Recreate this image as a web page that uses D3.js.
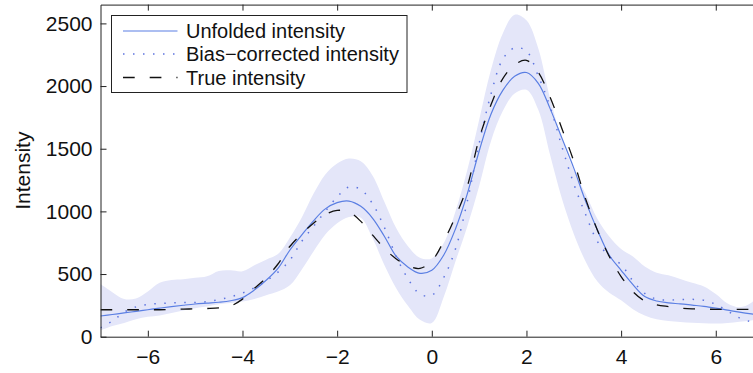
<!DOCTYPE html>
<html>
<head>
<meta charset="utf-8">
<script src="https://cdn.jsdelivr.net/npm/d3@7"></script>
<style>
  body { margin: 0; background: #fff; }
  svg { display: block; font-family: "Liberation Sans", Arial, Helvetica, sans-serif; }
</style>
</head>
<body>
<script>
// sample positions along the x axis
const xs = [-7, -6.75, -6.5, -6.25, -6, -5.75, -5.5, -5.25, -5, -4.75, -4.5, -4.25, -4, -3.75, -3.5, -3.25,
  -3, -2.75, -2.5, -2.25, -2, -1.75, -1.5, -1.25, -1, -0.75, -0.5, -0.25, 0, 0.25, 0.5, 0.75,
  1, 1.25, 1.5, 1.75, 2, 2.25, 2.5, 2.75, 3, 3.25, 3.5, 3.75, 4, 4.25, 4.5, 4.75,
  5, 5.25, 5.5, 5.75, 6, 6.25, 6.5, 6.75, 7];

// unfolded intensity (solid blue)
const unfolded = [165, 177, 190, 202, 215, 228, 240, 251, 261, 268, 275, 287, 312, 372, 450, 545,
  690, 810, 925, 1020, 1070, 1082, 1040, 945, 800, 640, 555, 506, 530, 650, 860, 1140,
  1480, 1775, 1965, 2078, 2108, 2022, 1820, 1583, 1345, 1080, 850, 650, 530, 415, 320, 285,
  270, 262, 252, 242, 228, 212, 196, 182, 170];

// bias-corrected intensity (dotted blue)
const biasCorrected = [70, 125, 195, 238, 258, 265, 270, 272, 273, 280, 295, 318, 348, 390, 445, 515,
  610, 760, 880, 1000, 1115, 1195, 1175, 1060, 870, 640, 460, 340, 330, 470, 700, 1080,
  1540, 1935, 2215, 2305, 2280, 2080, 1835, 1515, 1220, 975, 760, 640, 575, 445, 345, 300,
  293, 296, 298, 290, 258, 205, 150, 118, 90];

// true intensity (dashed black)
const trueIntensity = [215, 215, 215, 215, 215, 215, 217, 220, 222, 225, 230, 245, 300, 385, 470, 580,
  720, 820, 905, 975, 1008, 995, 920, 810, 705, 620, 565, 545, 605, 760, 960, 1200,
  1580, 1850, 2060, 2170, 2205, 2110, 1910, 1660, 1400, 1100, 850, 640, 480, 360, 285, 255,
  240, 228, 222, 220, 218, 218, 218, 218, 218];

// uncertainty band (lower / upper)
const bandLow = [50, 85, 110, 140, 160, 170, 190, 210, 228, 240, 258, 268, 280, 300, 330, 360,
  410, 535, 680, 815, 905, 955, 950, 785, 570, 385, 245, 135, 110, 315, 600, 880,
  1200, 1560, 1800, 1940, 1970, 1810, 1450, 1100, 820, 600, 440, 350, 290, 220, 170, 140,
  125, 118, 112, 108, 105, 110, 120, 130, 140];
const bandHigh = [420, 355, 300, 305, 360, 430, 452, 458, 470, 482, 525, 530, 522, 570, 615, 660,
  790, 950, 1140, 1295, 1383, 1422, 1400, 1285, 1075, 865, 720, 630, 625, 745, 1000, 1330,
  1730, 2130, 2420, 2570, 2525, 2300, 1900, 1570, 1330, 1140, 940, 800, 700, 640, 560, 510,
  490, 460, 430, 400, 340, 265, 235, 270, 400];

// axis ticks and legend labels
const xTicks = [-6, -4, -2, 0, 2, 4, 6];
const yTicks = [0, 500, 1000, 1500, 2000, 2500];
const legendLabels = ['Unfolded intensity', 'Bias\u2212corrected intensity', 'True intensity'];

const width = 753;
const height = 373;
const blue = '#5b7fe3';
const dotBlue = '#5d74e0';

const svg = d3.select('body').append('svg')
    .attr('width', width)
    .attr('height', height);

// scales (plot area runs past the right edge of the picture)
const xScale = d3.scaleLinear().domain([-7, 7]).range([100.5, 763.1]);
const yScale = d3.scaleLinear().domain([0, 2650]).range([336.7, 4.6]);

svg.append('clipPath').attr('id', 'plot')
  .append('rect')
    .attr('x', 100.5).attr('y', 4.6)
    .attr('width', 662.6).attr('height', 332.1);

const rows = xs.map((x, i) => ({
  x: x, u: unfolded[i], b: biasCorrected[i], t: trueIntensity[i], lo: bandLow[i], hi: bandHigh[i]
}));

const plot = svg.append('g').attr('clip-path', 'url(#plot)');
const curve = d3.curveCatmullRom.alpha(0.5);

// shaded band
plot.append('path')
    .datum(rows)
    .attr('fill', '#e4e6f9')
    .attr('d', d3.area().curve(curve)
      .x(d => xScale(d.x)).y0(d => yScale(d.lo)).y1(d => yScale(d.hi)));

function line(key) {
  return d3.line().curve(curve).x(d => xScale(d.x)).y(d => yScale(d[key]));
}

plot.append('path').datum(rows)
    .attr('fill', 'none').attr('stroke', blue).attr('stroke-width', 1.2)
    .attr('d', line('u'));

plot.append('path').datum(rows)
    .attr('fill', 'none').attr('stroke', dotBlue).attr('stroke-width', 1.5)
    .attr('stroke-dasharray', '1.5,8.5')
    .attr('d', line('b'));

plot.append('path').datum(rows)
    .attr('fill', 'none').attr('stroke', '#111').attr('stroke-width', 1.3)
    .attr('stroke-dasharray', '11.7,15')
    .attr('d', line('t'));

// axes, MATLAB style: ticks pointing inward, box on top
const minusFormat = d => String(d).replace('-', '\u2212');

const xAxis = svg.append('g')
    .attr('transform', 'translate(0,336.7)')
    .call(d3.axisBottom(xScale).tickValues(xTicks).tickSizeInner(-6).tickSizeOuter(0)
      .tickFormat(minusFormat));
xAxis.selectAll('text').attr('dy', 0).attr('y', 27);

svg.append('g')
    .attr('transform', 'translate(0,4.6)')
    .call(d3.axisTop(xScale).tickValues(xTicks).tickSizeInner(-6).tickSizeOuter(0).tickFormat(''));

const yAxis = svg.append('g')
    .attr('transform', 'translate(100.5,0)')
    .call(d3.axisLeft(yScale).tickValues(yTicks).tickSizeInner(-6).tickSizeOuter(0)
      .tickFormat(minusFormat));
yAxis.selectAll('text').attr('x', -8);

svg.selectAll('.domain').attr('stroke', '#222');
svg.selectAll('.tick line').attr('stroke', '#222');
svg.selectAll('.tick text')
    .attr('font-size', 21)
    .attr('fill', '#111')
    .attr('font-family', '"Liberation Sans", Arial, Helvetica, sans-serif');

// y axis title
svg.append('text')
    .attr('transform', 'translate(30,170.7) rotate(-90)')
    .attr('text-anchor', 'middle')
    .attr('font-size', 21)
    .attr('fill', '#111')
    .text('Intensity');

// legend
const legend = svg.append('g');
legend.append('rect')
    .attr('x', 111.5).attr('y', 15.5)
    .attr('width', 295.5).attr('height', 77)
    .attr('fill', '#fff').attr('stroke', '#222').attr('stroke-width', 1);

const legendStyles = [
  { stroke: blue, dash: null, width: 1.2 },
  { stroke: dotBlue, dash: '1.5,8.5', width: 1.5 },
  { stroke: '#111', dash: '11.7,15', width: 1.3 }
];
const legendY = [31, 54, 77.5];

legendLabels.forEach((label, i) => {
  legend.append('line')
      .attr('x1', 123).attr('x2', 177.5)
      .attr('y1', legendY[i]).attr('y2', legendY[i])
      .attr('stroke', legendStyles[i].stroke)
      .attr('stroke-width', legendStyles[i].width)
      .attr('stroke-dasharray', legendStyles[i].dash);
  legend.append('text')
      .attr('x', 186).attr('y', legendY[i])
      .attr('dy', '0.35em')
      .attr('font-size', 20)
      .attr('fill', '#111')
      .text(label);
});
</script>
</body>
</html>
